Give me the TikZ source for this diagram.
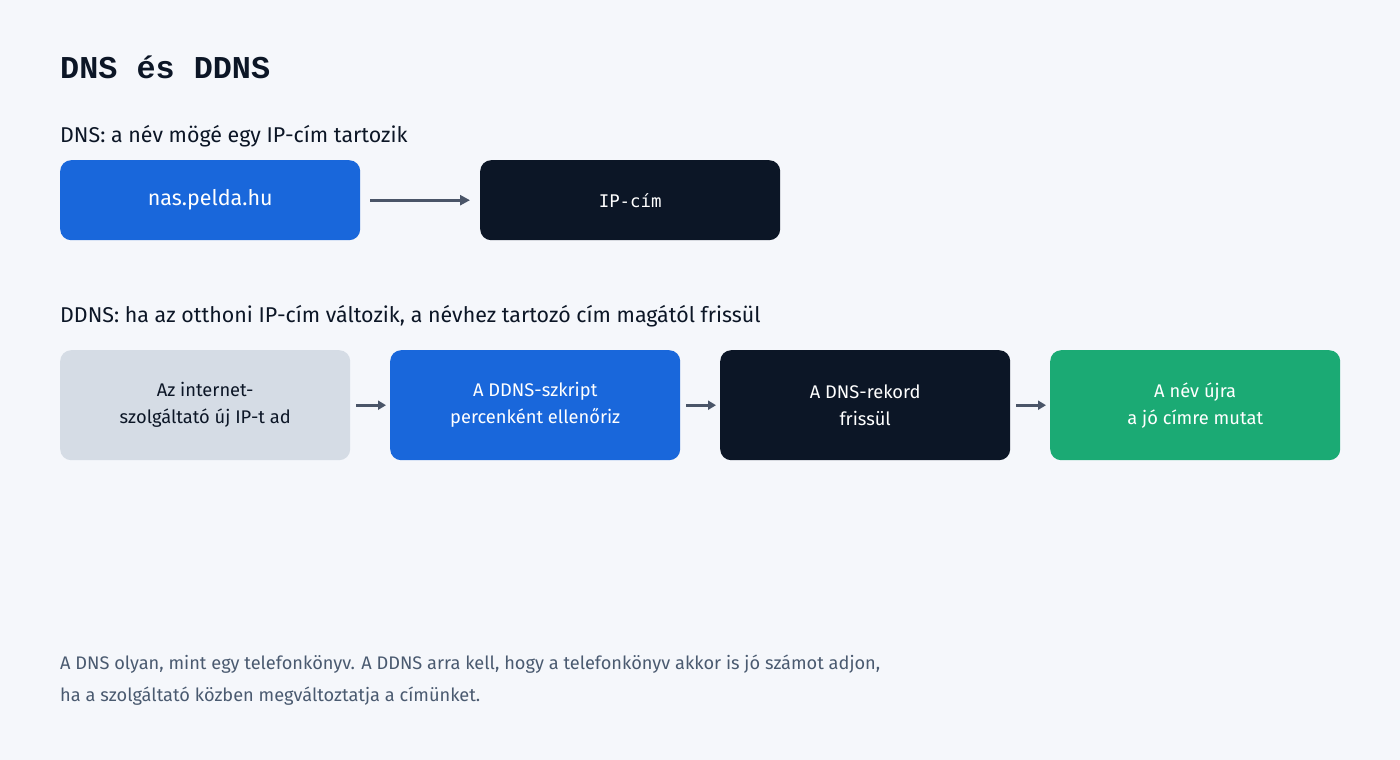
\documentclass[tikz,border=0pt]{standalone}
\usepackage{fontspec}
\setmainfont{Fira Sans}
\newfontfamily\titlefont{Liberation Mono}
\newfontfamily\monofont{DejaVu Sans Mono}
\usetikzlibrary{arrows.meta}
\definecolor{bg}{HTML}{F5F7FB}
\definecolor{blu}{HTML}{1967DB}
\definecolor{drk}{HTML}{0C1626}
\definecolor{gry}{HTML}{D5DCE5}
\definecolor{grn}{HTML}{1BAA74}
\definecolor{arr}{HTML}{4A5568}
\definecolor{foot}{HTML}{4A5A70}
\tikzset{
  x=1pt,y=-1pt,
  box/.style={rounded corners=11pt, inner sep=0pt, align=center, anchor=north west},
  bigbox/.style={box, minimum width=300pt, minimum height=80pt, font=\fontsize{21.5}{24}\selectfont},
  rowbox/.style={box, minimum width=290pt, minimum height=110pt, font=\fontsize{18.3}{27}\selectfont},
  conn/.style={draw=arr, line width=3pt, -{Triangle[length=10pt,width=10pt]}},
  sconn/.style={draw=arr, line width=3pt, -{Triangle[length=8pt,width=9pt]}},
  heading/.style={anchor=base west, inner sep=0pt, text=drk, font=\fontsize{21.4}{24}\selectfont},
}
\begin{document}
\begin{tikzpicture}
\fill[bg] (0,0) rectangle (1400,760);
\useasboundingbox (0,0) rectangle (1400,760);
\node[anchor=base west, inner sep=0pt, text=drk, font=\titlefont\bfseries\fontsize{31.8}{36}\selectfont] (title) at (60,78) {DNS és DDNS};
\node[heading] (h1) at (60,142) {DNS: a név mögé egy IP-cím tartozik};
\node[bigbox, fill=blu, text=white] (name) at (60,160) {nas.pelda.hu};
\node[bigbox, fill=drk, text=white, font=\monofont\fontsize{17.4}{20}\selectfont] (ip) at (480,160) {IP-cím};
\draw[conn] ([xshift=10pt]name.east) -- ([xshift=-10pt]ip.west);
\node[heading] (h2) at (60,322) {DDNS: ha az otthoni IP-cím változik, a névhez tartozó cím magától frissül};
\node[rowbox, fill=gry, text=drk] (a) at (60,350) {Az internet-\\szolgáltató új IP-t ad};
\node[rowbox, fill=blu, text=white] (b) at (390,350) {A DDNS-szkript\\percenként ellenőriz};
\node[rowbox, fill=drk, text=white] (c) at (720,350) {A DNS-rekord\\frissül};
\node[rowbox, fill=grn, text=white] (d) at (1050,350) {A név újra\\a jó címre mutat};
\draw[sconn] ([xshift=6pt]a.east) -- ([xshift=-4pt]b.west);
\draw[sconn] ([xshift=6pt]b.east) -- ([xshift=-4pt]c.west);
\draw[sconn] ([xshift=6pt]c.east) -- ([xshift=-4pt]d.west);
\node[anchor=base west, inner sep=0pt, text=foot, font=\fontsize{18.2}{32}\selectfont, align=left] (f) at (60,701) {A DNS olyan, mint egy telefonkönyv. A DDNS arra kell, hogy a telefonkönyv akkor is jó számot adjon,\\ha a szolgáltató közben megváltoztatja a címünket.};
\end{tikzpicture}
\end{document}
